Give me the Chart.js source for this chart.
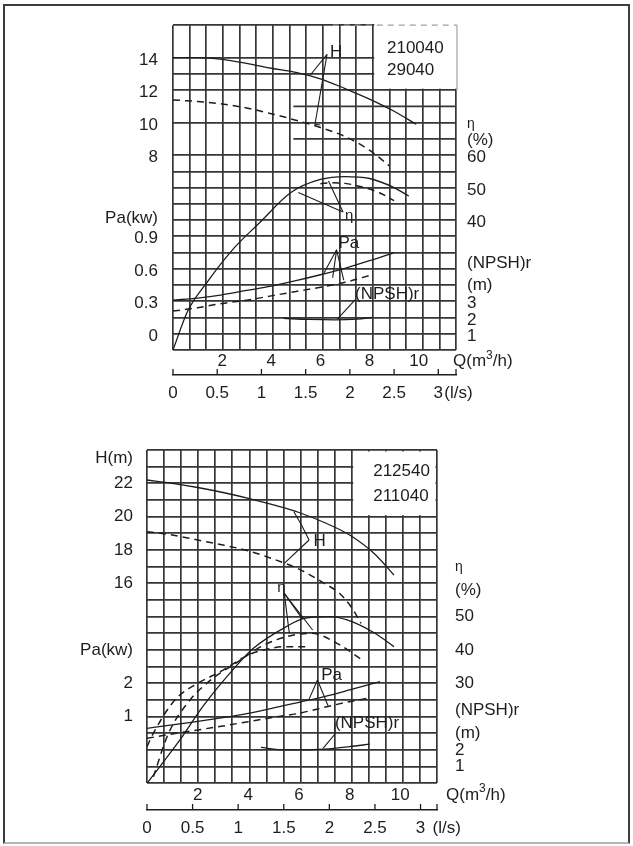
<!DOCTYPE html>
<html>
<head>
<meta charset="utf-8">
<title>Pump curves</title>
<script src="https://cdn.jsdelivr.net/npm/chart.js@4.4.1/dist/chart.umd.min.js"></script>
<style>
  html, body { margin: 0; padding: 0; background: #fff; }
  #page { position: relative; width: 633px; height: 846px; overflow: hidden; }
  #frame { position: absolute; left: 3px; top: 4px; width: 623px; height: 836px; border: 2px solid #3c3c3c; border-bottom-color: #b5b5b5; }
  .panel { position: absolute; left: 0; }
  canvas { display: block; }
</style>
</head>
<body>
<div id="page">
  <div id="frame"></div>
  <div class="panel" style="top:0"><canvas id="upper" width="633" height="420"></canvas></div>
  <div class="panel" style="top:420px"><canvas id="lower" width="633" height="426"></canvas></div>
</div>
<script>
const FONT = '"Liberation Sans", Arial, sans-serif';
const INK = '#1d1d1d';
const GRID = '#363636';
const CLEAR = 'rgba(0,0,0,0)';

// shared flow ticks
const flowTicks = [2, 4, 6, 8, 10];               // Q (m3/h)
const litreTicks = [0, 0.5, 1, 1.5, 2, 2.5, 3];   // Q (l/s)

// ---- upper chart: 210040 solid, 29040 dashed
const topModels = ['210040', '29040'];
const topHeadTicks = [8, 10, 12, 14];
const topPowTicks = [0, 0.3, 0.6, 0.9];
const topEffTicks = [40, 50, 60];
const topNpshTicks = [1, 2, 3];

const topHeadQ1 = [0, 1, 2, 3, 4, 5, 6, 7, 8, 9, 9.9];
const topHead1 = [14.0, 14.0, 13.9, 13.65, 13.35, 13.1, 12.7, 12.1, 11.45, 10.7, 9.9];
const topHeadQ2 = [0, 1, 2, 3, 4, 5, 6, 7, 8, 8.8];
const topHead2 = [11.4, 11.3, 11.15, 10.9, 10.55, 10.15, 9.7, 9.15, 8.3, 7.35];
const topEffQ1 = [0, 0.6, 1.4, 2.5, 3.5, 4.8, 6, 7, 8, 9, 9.6];
const topEff1 = [0, 12, 21, 31.5, 39, 48.5, 52.5, 53.4, 52.8, 50, 47.4];
const topEffQ2 = [6, 6.5, 7, 7.7, 8.4, 9];
const topEff2 = [51.2, 51.5, 51.3, 50.2, 48.4, 46];
const topPowQ1 = [0, 1, 2, 3, 4, 5, 6, 7, 8, 9];
const topPow1 = [0.31, 0.33, 0.36, 0.40, 0.44, 0.49, 0.545, 0.605, 0.675, 0.75];
const topPowQ2 = [0, 1, 2, 3, 4, 5, 6, 7, 8.1];
const topPow2 = [0.21, 0.24, 0.28, 0.31, 0.35, 0.39, 0.43, 0.475, 0.545];
const topNpshQ = [4.5, 5.5, 6.6, 7.5, 8.1];
const topNpsh = [1.95, 1.88, 1.85, 1.9, 2.0];

// leader lines, in (Q, head-grid) units
const topLeaders = [
  [[6.27, 14.2], [5.6, 12.95]],
  [[6.27, 14.2], [5.78, 9.9], [6.0, 9.85]],
  [[6.92, 4.5], [5.1, 5.7]],
  [[6.92, 4.5], [6.33, 6.4]],
  [[6.66, 2.17], [6.15, 0.75]],
  [[6.66, 2.17], [6.5, 0.45]],
  [[6.66, 2.17], [6.95, 0.3]],
  [[7.42, -0.9], [6.68, -2.12]]
];

// ---- lower chart: 212540 solid, 211040 dashed
const botModels = ['212540', '211040'];
const botHeadTicks = [16, 18, 20, 22];
const botPowTicks = [1, 2];
const botEffTicks = [30, 40, 50];
const botNpshTicks = [1, 2];

const botHeadQ1 = [0, 1, 2, 3, 4, 5, 6, 7, 8, 9, 9.75];
const botHead1 = [22.2, 22.0, 21.75, 21.45, 21.1, 20.7, 20.25, 19.65, 18.9, 17.75, 16.5];
const botHeadQ2 = [0, 1, 2, 3, 4, 5, 6, 7, 7.6, 8.1, 8.45];
const botHead2 = [19.1, 18.9, 18.6, 18.3, 17.95, 17.45, 16.85, 16.0, 15.4, 14.5, 13.6];
const botEffQ1 = [0, 1.3, 2.2, 3.5, 4.2, 5.5, 6.2, 7.2, 7.9, 9, 9.75];
const botEff1 = [0, 13, 23, 35, 40.5, 47, 49.5, 50, 49, 45, 41];
const botEffQ2 = [0.25, 0.85, 1.7, 2.6, 3.5, 4.5, 5.5, 6.5, 7.5, 8.5];
const botEff2 = [2, 15, 25, 31.5, 36, 41, 44, 45, 42, 37];
const botEffQ3 = [0, 0.25, 1.1, 2, 2.9, 4, 4.6, 5.5, 6.3];
const botEff3 = [11, 15, 25, 30, 33.5, 38.5, 40, 41, 41];
const botPowQ1 = [0, 1, 2, 3, 4, 5, 6, 7, 8, 9.2];
const botPow1 = [0.65, 0.75, 0.86, 0.97, 1.1, 1.26, 1.43, 1.6, 1.8, 2.05];
const botPowQ2 = [0, 1, 2, 3, 4, 5, 6, 7, 8, 8.7];
const botPow2 = [0.35, 0.48, 0.6, 0.72, 0.85, 0.98, 1.1, 1.28, 1.45, 1.55];
const botNpshQ = [4.5, 5.3, 6.2, 7.0, 8.0, 8.8];
const botNpsh = [2.15, 2.02, 2.0, 2.05, 2.2, 2.35];

const botLeaders = [
  [[6.4, 18.6], [6.1, 19.5], [5.8, 20.3]],
  [[6.4, 18.6], [5.42, 17.2]],
  [[5.42, 15.4], [6.54, 13.2]],
  [[5.42, 15.4], [6.14, 13.85]],
  [[5.42, 15.4], [5.62, 13.0]],
  [[6.73, 10.2], [6.4, 9.05]],
  [[6.73, 10.2], [7.15, 8.65]],
  [[7.42, 7.65], [7.42, 6.95], [6.95, 6.1]]
];

const upper = {
  hMin: -4, hMax: 16, paMin: -0.15, paMax: 2.85, qMax: 11.52, cols: 17,
  leftW: 173, rightW: 177, padTop: 17, xH: 25, lsH: 45,
  leftPad: 15, rightPad: 11, xPad: 1.5, lsPad: 8, nudge: 0.15,
  headTicks: topHeadTicks, powTicks: topPowTicks, effTicks: topEffTicks, npshTicks: topNpshTicks,
  leftUnits: [['Pa(kw)', 4.1]],
  rightUnits: [['η', 9.9], ['(%)', 8.9], ['(NPSH)r', 1.35], ['(m)', 0]],
  hiddenRows: [15, 11, 9], partialRows: [[11, 4.9], [9, 4.9]],
  boxCol: 12, boxRow: 12, faintBox: true,
  models: topModels, modelAt: [8.71, 14.6, 13.2],
  series: [
    { q: topHeadQ1, v: topHead1, axis: 'y' },
    { q: topHeadQ2, v: topHead2, axis: 'y', dash: true },
    { q: topEffQ1, v: topEff1, axis: 'eta' },
    { q: topEffQ2, v: topEff2, axis: 'eta', dash: true },
    { q: topPowQ1, v: topPow1, axis: 'pa' },
    { q: topPowQ2, v: topPow2, axis: 'pa', dash: true },
    { q: topNpshQ, v: topNpsh, axis: 'npsh' }
  ],
  leaders: topLeaders,
  notes: [
    { text: 'H', q: 6.64, h: 14.36 },
    { text: 'η', q: 7.17, h: 4.27, size: 15 },
    { text: 'Pa', q: 7.16, h: 2.6 },
    { text: '(NPSH)r', q: 7.41, h: -0.6, align: 'left' }
  ],
  qTitleDx: -3, lsUnitDx: 6
};

const lower = {
  hMin: 4, hMax: 24, paMin: -1, paMax: 9, qMax: 11.45, cols: 17,
  leftW: 147, rightW: 196, padTop: 30, xH: 26.7, lsH: 36,
  leftPad: 14, rightPad: 18, xPad: 1.5, lsPad: 7.8, nudge: 0,
  headTicks: botHeadTicks, powTicks: botPowTicks, effTicks: botEffTicks, npshTicks: botNpshTicks,
  leftUnits: [['H(m)', 23.5], ['Pa(kw)', 12]],
  rightUnits: [['η', 17], ['(%)', 15.6], ['(NPSH)r', 8.4], ['(m)', 7]],
  hiddenRows: [], partialRows: [],
  boxCol: 12, boxRow: 20, faintBox: false,
  models: botModels, modelAt: [8.93, 22.7, 21.2],
  series: [
    { q: botHeadQ1, v: botHead1, axis: 'y' },
    { q: botHeadQ2, v: botHead2, axis: 'y', dash: true },
    { q: botEffQ1, v: botEff1, axis: 'eta' },
    { q: botEffQ2, v: botEff2, axis: 'eta', dash: true },
    { q: botEffQ3, v: botEff3, axis: 'eta', dash: true },
    { q: botPowQ1, v: botPow1, axis: 'pa' },
    { q: botPowQ2, v: botPow2, axis: 'pa', dash: true },
    { q: botNpshQ, v: botNpsh, axis: 'npsh' }
  ],
  leaders: botLeaders,
  notes: [
    { text: 'H', q: 6.82, h: 18.54 },
    { text: 'η', q: 5.31, h: 15.7, size: 15 },
    { text: 'Pa', q: 7.29, h: 10.5 },
    { text: '(NPSH)r', q: 7.42, h: 7.6, align: 'left' }
  ],
  qTitleDx: 9, lsUnitDx: 12
};

function buildChart(canvasId, c) {
  const toH = (v, lo, hi) => c.hMin + (v - lo) / (hi - lo) * (c.hMax - c.hMin);
  const byValue = (a, b) => a.value - b.value;

  const leftTicks = [];
  for (let h = c.hMin; h <= c.hMax; h++) leftTicks.push({ value: h, grid: !c.hiddenRows.includes(h), text: '' });
  c.headTicks.forEach(h => leftTicks.push({ value: h - c.nudge, text: String(h) }));
  c.powTicks.forEach(p => leftTicks.push({ value: toH(p, c.paMin, c.paMax) - c.nudge, text: String(p) }));
  c.leftUnits.forEach(([t, h]) => leftTicks.push({ value: h, text: t }));

  const rightTicks = [];
  c.effTicks.forEach(e => rightTicks.push({ value: toH(e, 0, 100) - c.nudge, text: String(e) }));
  c.npshTicks.forEach(n => rightTicks.push({ value: toH(n, 0, 20) - c.nudge, text: String(n) }));
  c.rightUnits.forEach(([t, h]) => rightTicks.push({ value: h, text: t }));

  const xTicks = [];
  for (let k = 0; k <= c.cols; k++) xTicks.push({ value: c.qMax * k / c.cols, grid: true, text: '' });
  flowTicks.forEach(q => xTicks.push({ value: q, text: String(q) }));

  [leftTicks, rightTicks, xTicks].forEach(l => l.sort(byValue));

  const gridColor = g => (g.tick && g.tick.grid ? GRID : CLEAR);
  const label = (v, i, t) => (t[i] && t[i].text) || '';
  const tickFont = ctx => ({ family: FONT, size: ctx.tick && ctx.tick.text === 'η' ? 14 : 17 });

  const datasets = c.series.map(s => ({
    data: s.q.map((q, i) => ({ x: q, y: s.v[i] })),
    xAxisID: 'x', yAxisID: s.axis,
    borderColor: INK, borderWidth: s.dash ? 1.5 : 1.3,
    borderDash: s.dash ? [7, 5] : [],
    pointRadius: 0, cubicInterpolationMode: 'monotone', fill: false
  }));
  c.leaders.forEach(pts => datasets.push({
    data: pts.map(([q, h]) => ({ x: q, y: h })),
    xAxisID: 'x', yAxisID: 'y',
    borderColor: INK, borderWidth: 1.1, pointRadius: 0, tension: 0, fill: false
  }));

  const decor = {
    id: 'decor',
    beforeDatasetsDraw(chart) {
      const { ctx, chartArea: a, scales: { x, y } } = chart;
      const bx = x.getPixelForValue(c.qMax * c.boxCol / c.cols);
      const by = y.getPixelForValue(c.boxRow);
      ctx.save();
      ctx.fillStyle = '#fff';
      if (c.faintBox) {
        ctx.fillRect(bx + 1.5, a.top - 3, a.right - bx + 1, by - a.top + 1.5);
        ctx.strokeStyle = '#a0a0a0';
        ctx.lineWidth = 1.2;
        ctx.setLineDash([6, 5]);
        ctx.beginPath(); ctx.moveTo(bx - 40, a.top); ctx.lineTo(a.right + 1, a.top); ctx.stroke();
        ctx.setLineDash([]);
        ctx.beginPath(); ctx.moveTo(a.right + 1, a.top); ctx.lineTo(a.right + 1, by); ctx.stroke();
      } else {
        ctx.fillRect(bx + 1.5, a.top + 1.5, a.right - bx - 3, by - a.top - 3);
      }
      ctx.strokeStyle = GRID;
      ctx.lineWidth = 1.7;
      c.partialRows.forEach(([h, q0]) => {
        const py = y.getPixelForValue(h);
        ctx.beginPath(); ctx.moveTo(x.getPixelForValue(q0), py); ctx.lineTo(a.right, py); ctx.stroke();
      });
      ctx.restore();
    },
    afterDatasetsDraw(chart) {
      const { ctx, scales: { x, y } } = chart;
      ctx.save();
      ctx.fillStyle = INK;
      ctx.textBaseline = 'middle';
      ctx.textAlign = 'left';
      ctx.font = `17px ${FONT}`;
      const mx = x.getPixelForValue(c.modelAt[0]);
      ctx.fillText(c.models[0], mx, y.getPixelForValue(c.modelAt[1]));
      ctx.fillText(c.models[1], mx, y.getPixelForValue(c.modelAt[2]));
      c.notes.forEach(n => {
        ctx.font = `${n.size || 17}px ${FONT}`;
        ctx.textAlign = n.align || 'center';
        ctx.fillText(n.text, x.getPixelForValue(n.q), y.getPixelForValue(n.h));
      });
      ctx.restore();
    },
    afterDraw(chart) {
      const { ctx, chartArea: a, scales: { x, ls } } = chart;
      ctx.save();
      ctx.strokeStyle = INK;
      ctx.lineWidth = 1.3;
      litreTicks.concat([ls.max]).forEach(v => {
        const px = ls.getPixelForValue(v);
        ctx.beginPath(); ctx.moveTo(px, ls.top); ctx.lineTo(px, ls.top - 6); ctx.stroke();
      });
      ctx.fillStyle = INK;
      ctx.textBaseline = 'middle';
      ctx.textAlign = 'left';
      const ty = x.top + c.xPad + 10.2;
      let tx = a.right + c.qTitleDx;
      ctx.font = `17px ${FONT}`;
      ctx.fillText('Q(m', tx, ty);
      tx += ctx.measureText('Q(m').width;
      ctx.font = `12px ${FONT}`;
      ctx.fillText('3', tx, ty - 6);
      tx += ctx.measureText('3').width;
      ctx.font = `17px ${FONT}`;
      ctx.fillText('/h)', tx, ty);
      ctx.fillText('(l/s)', ls.getPixelForValue(3) + c.lsUnitDx, ls.top + c.lsPad + 10.2);
      ctx.restore();
    }
  };

  return new Chart(document.getElementById(canvasId), {
    type: 'line',
    data: { datasets },
    options: {
      responsive: false,
      animation: false,
      layout: { padding: { top: c.padTop, left: 0, right: 0, bottom: 0 } },
      plugins: { legend: { display: false }, tooltip: { enabled: false } },
      scales: {
        x: {
          type: 'linear', position: 'bottom', weight: 0, min: 0, max: c.qMax,
          afterBuildTicks: s => { s.ticks = xTicks.map(t => ({ ...t })); },
          afterFit: s => { s.height = c.xH; },
          grid: { color: gridColor, lineWidth: 1.7, drawTicks: false },
          border: { display: false },
          ticks: { autoSkip: false, maxRotation: 0, minRotation: 0, padding: c.xPad, color: INK, font: { family: FONT, size: 17 }, callback: label }
        },
        ls: {
          type: 'linear', axis: 'x', position: 'bottom', weight: 1, min: 0, max: c.qMax / 3.6,
          afterBuildTicks: s => { s.ticks = litreTicks.map(v => ({ value: v })); },
          afterFit: s => { s.height = c.lsH; },
          grid: { drawOnChartArea: false, drawTicks: false },
          border: { display: true, color: INK, width: 1.5 },
          ticks: { autoSkip: false, maxRotation: 0, minRotation: 0, padding: c.lsPad, color: INK, font: { family: FONT, size: 17 }, callback: v => String(v) }
        },
        y: {
          type: 'linear', position: 'left', min: c.hMin, max: c.hMax,
          afterBuildTicks: s => { s.ticks = leftTicks.map(t => ({ ...t })); },
          afterFit: s => { s.width = c.leftW; },
          grid: { color: gridColor, lineWidth: 1.7, drawTicks: false },
          border: { display: false },
          ticks: { autoSkip: false, padding: c.leftPad, color: INK, font: tickFont, callback: label }
        },
        yr: {
          type: 'linear', position: 'right', min: c.hMin, max: c.hMax,
          afterBuildTicks: s => { s.ticks = rightTicks.map(t => ({ ...t })); },
          afterFit: s => { s.width = c.rightW; },
          grid: { display: false, drawTicks: false },
          border: { display: false },
          ticks: { autoSkip: false, padding: c.rightPad, color: INK, font: tickFont, callback: label }
        },
        pa: { type: 'linear', axis: 'y', position: 'left', display: false, min: c.paMin, max: c.paMax },
        eta: { type: 'linear', axis: 'y', position: 'left', display: false, min: 0, max: 100 },
        npsh: { type: 'linear', axis: 'y', position: 'left', display: false, min: 0, max: 20 }
      }
    },
    plugins: [decor]
  });
}

buildChart('upper', upper);
buildChart('lower', lower);
</script>
</body>
</html>
